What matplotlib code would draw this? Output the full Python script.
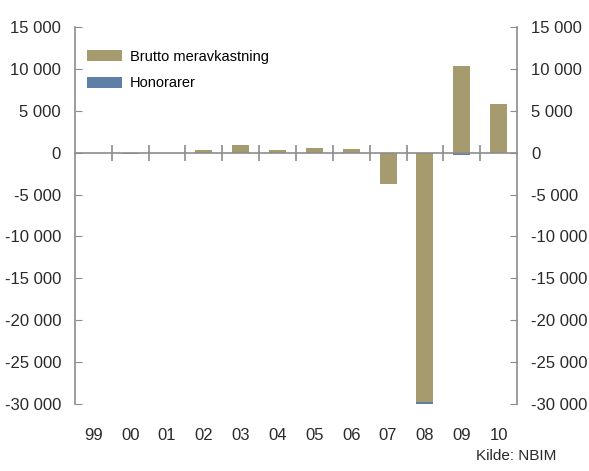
import matplotlib
matplotlib.use('Agg')
import matplotlib.pyplot as plt
import numpy as np

plt.rcParams['font.family'] = ['Liberation Sans', 'DejaVu Sans']

# Data
years = ['99', '00', '01', '02', '03', '04', '05', '06', '07', '08', '09', '10']
brutto = [0, -100, 0, 350, 950, 350, 600, 380, -3750, -29750, 10400, 5750]
honorarer = [-30, -60, -40, -60, -90, -70, -80, -70, -40, -250, -280, -40]
yticks = [15000, 10000, 5000, 0, -5000, -10000, -15000, -20000, -25000, -30000]

col_brutto = '#a59b6e'
col_hon = '#5f7ea8'
col_axis = '#8c8c8c'
col_text = '#2a2a2a'

fig = plt.figure(figsize=(5.89, 4.71), dpi=100)
ax = fig.add_axes([0.1273, 0.1423, 0.7505, 0.8004])

x = np.arange(len(years))
b = np.array(brutto)
h = np.array(honorarer)
# fees stack below the brutto bar when that bar is negative
base = np.where(b < 0, b, 0)
ax.bar(x, b, width=0.46, color=col_brutto, label='Brutto meravkastning', zorder=2)
ax.bar(x, h, width=0.46, bottom=base, color=col_hon, label='Honorarer', zorder=2)

ax.set_xlim(-0.5, len(years) - 0.5)
ax.set_ylim(-30000, 15000)

def fmt(v):
    s = f'{abs(v):,}'.replace(',', ' ')
    return ('-' if v < 0 else '') + s

ax.set_yticks(yticks)
ax.set_yticklabels([fmt(v) for v in yticks])
ax.tick_params(axis='y', direction='in', length=5, color=col_axis,
               labelsize=12, labelcolor=col_text, pad=10,
               left=True, right=True, labelleft=True, labelright=True)

# x axis: zero line with boundary ticks, labels at the bottom
ax.spines['bottom'].set_visible(False)
ax.spines['top'].set_position(('data', 0))
for s in ['top', 'left', 'right']:
    ax.spines[s].set_color(col_axis)
    ax.spines[s].set_linewidth(1.2)
    ax.spines[s].set_zorder(3)

ax.set_xticks(x)
ax.set_xticklabels(years)
ax.set_xticks(np.arange(0.5, len(years) - 1, 1.0), minor=True)
ax.tick_params(axis='x', which='major', bottom=True, top=False, length=0,
               labelsize=12, labelcolor=col_text, pad=17)
ax.tick_params(axis='x', which='minor', bottom=False, top=True, labeltop=False,
               direction='inout', length=12, width=1.2, color=col_axis)

ax.legend(loc='upper left', bbox_to_anchor=(-0.005, 0.978), frameon=False,
          handlelength=2.4, handleheight=0.8, labelspacing=0.85,
          fontsize=10.5, borderaxespad=0.6, handletextpad=0.5)

fig.text(0.944, 0.016, 'Kilde: NBIM', ha='right', va='bottom', fontsize=11, color=col_text)

fig.savefig('out.png', dpi=100)
